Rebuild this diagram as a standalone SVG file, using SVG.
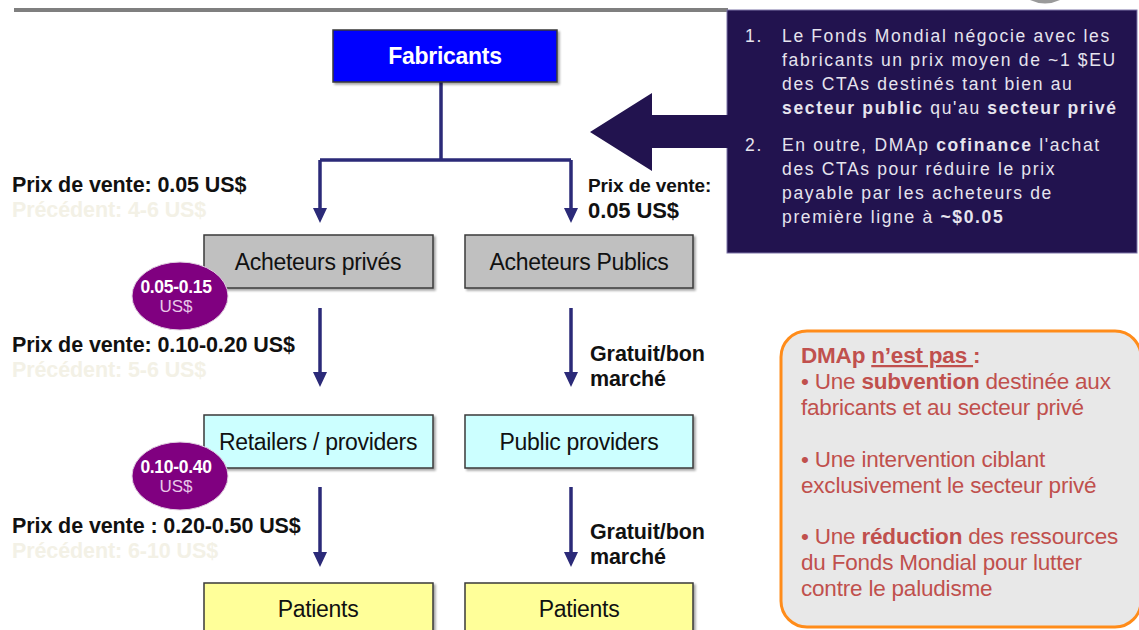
<svg xmlns="http://www.w3.org/2000/svg" width="1139" height="630" viewBox="0 0 1139 630">
<style>
.box{stroke:#3a3a3a;stroke-width:1.5}
.lbl{font-family:"Liberation Sans",Arial,sans-serif;font-size:23px;fill:#111;text-anchor:middle;letter-spacing:-0.3px}
.price{font-family:"Liberation Sans",Arial,sans-serif;font-size:21.5px;font-weight:bold;fill:#111;letter-spacing:-0.1px}
.prev{font-family:"Liberation Sans",Arial,sans-serif;font-size:21.5px;font-weight:bold;fill:#f3f1e6;letter-spacing:-0.1px}
.conn{stroke:#2b2a78;stroke-width:3.5;fill:none}
.ov1{font-family:"Liberation Sans",Arial,sans-serif;font-size:17.5px;font-weight:bold;fill:#fff;text-anchor:middle;letter-spacing:-0.3px}
.ov2{font-family:"Liberation Sans",Arial,sans-serif;font-size:17px;fill:#e8c8e8;text-anchor:middle}
.nt{font-family:"Liberation Sans",Arial,sans-serif;font-size:17.5px;fill:#e6e4ee;letter-spacing:1.65px}
.dm{font-family:"Liberation Sans",Arial,sans-serif;font-size:22.5px;fill:#c0504d;letter-spacing:-0.2px}
</style>
<defs>
<filter id="sh" x="-5%" y="-5%" width="115%" height="130%">
<feDropShadow dx="2" dy="2" stdDeviation="1" flood-color="#000" flood-opacity="0.35"/>
</filter>
</defs>
<rect x="0" y="0" width="1139" height="630" fill="#ffffff"/>
<rect x="14" y="8" width="714" height="4" fill="#7f7f7f"/>
<path d="M1030,0 Q1045,7 1060,0 Z" fill="#9a9a9a"/>

<g id="connectors">
<path class="conn" d="M441,82 V160 M320,160 H571"/>
<path d="M320,160 V208" class="conn"/>
<path d="M313,208 L327,208 L320,223 Z" fill="#2b2a78"/>
<path d="M571,160 V208" class="conn"/>
<path d="M564,208 L578,208 L571,223 Z" fill="#2b2a78"/>
<path d="M320,308 V372" class="conn"/>
<path d="M313,372 L327,372 L320,387 Z" fill="#2b2a78"/>
<path d="M571,308 V372" class="conn"/>
<path d="M564,372 L578,372 L571,387 Z" fill="#2b2a78"/>
<path d="M320,487 V552" class="conn"/>
<path d="M313,552 L327,552 L320,567 Z" fill="#2b2a78"/>
<path d="M571,487 V552" class="conn"/>
<path d="M564,552 L578,552 L571,567 Z" fill="#2b2a78"/>
</g>

<g id="fabricants">
<rect x="333" y="30" width="224" height="52" fill="#0000ff" class="box" filter="url(#sh)"/>
<text x="445" y="64" class="lbl" style="fill:#fff;font-weight:bold">Fabricants</text>
</g>

<g id="acheteurs-prives">
<rect x="204" y="235" width="229" height="53" fill="#c0c0c0" class="box" filter="url(#sh)"/>
<text x="318" y="270" class="lbl">Acheteurs privés</text>
</g>
<g id="acheteurs-publics">
<rect x="465" y="235" width="228" height="53" fill="#c0c0c0" class="box" filter="url(#sh)"/>
<text x="579" y="270" class="lbl">Acheteurs Publics</text>
</g>
<g id="retailers">
<rect x="204" y="415" width="229" height="53" fill="#ccffff" class="box" filter="url(#sh)"/>
<text x="318" y="450" class="lbl">Retailers / providers</text>
</g>
<g id="public-providers">
<rect x="465" y="415" width="228" height="53" fill="#ccffff" class="box" filter="url(#sh)"/>
<text x="579" y="450" class="lbl">Public providers</text>
</g>
<g id="patients-prives">
<rect x="204" y="583" width="229" height="60" fill="#ffff99" class="box" filter="url(#sh)"/>
<text x="318" y="617" class="lbl">Patients</text>
</g>
<g id="patients-publics">
<rect x="465" y="583" width="228" height="60" fill="#ffff99" class="box" filter="url(#sh)"/>
<text x="579" y="617" class="lbl">Patients</text>
</g>

<g id="oval-1">
<ellipse cx="180" cy="296" rx="48" ry="34" fill="#800080" stroke="#e0d0e0" stroke-width="1"/>
<text x="176" y="293" class="ov1">0.05-0.15</text>
<text x="176" y="312" class="ov2">US$</text>
</g>
<g id="oval-2">
<ellipse cx="180" cy="476" rx="48" ry="34" fill="#800080" stroke="#e0d0e0" stroke-width="1"/>
<text x="176" y="473" class="ov1">0.10-0.40</text>
<text x="176" y="492" class="ov2">US$</text>
</g>

<g id="price-labels">
<text x="12" y="192" class="price">Prix de vente: 0.05 US$</text>
<text x="12" y="217" class="prev">Précédent: 4-6 US$</text>
<text x="12" y="352" class="price">Prix de vente: 0.10-0.20 US$</text>
<text x="12" y="377" class="prev">Précédent: 5-6 US$</text>
<text x="12" y="533" class="price">Prix de vente : 0.20-0.50 US$</text>
<text x="12" y="558" class="prev">Précédent: 6-10 US$</text>
<text x="588" y="192" class="price" style="font-size:19px">Prix de vente:</text>
<text x="588" y="218" class="price" style="font-size:22px">0.05 US$</text>
<text x="590" y="361" class="price">Gratuit/bon</text>
<text x="590" y="386" class="price">marché</text>
<text x="590" y="539" class="price">Gratuit/bon</text>
<text x="590" y="564" class="price">marché</text>
</g>

<g id="note-box">
<rect x="727" y="10" width="410" height="243" fill="#22134f" stroke="#7d74a8" stroke-width="1"/>
<path d="M590,132 L652,93 L652,115 L728,115 L728,148 L652,148 L652,171 Z" fill="#22134f"/>
<text class="nt"><tspan x="745" y="42">1.</tspan><tspan x="782" y="42">Le Fonds Mondial négocie avec les</tspan>
<tspan x="782" y="66">fabricants un prix moyen de ~1 $EU</tspan>
<tspan x="782" y="90">des CTAs destinés tant bien au</tspan>
<tspan x="782" y="114"><tspan font-weight="bold">secteur public</tspan> qu'au <tspan font-weight="bold">secteur privé</tspan></tspan>
<tspan x="745" y="151">2.</tspan><tspan x="782" y="151">En outre, DMAp <tspan font-weight="bold">cofinance</tspan> l'achat</tspan>
<tspan x="782" y="175">des CTAs pour réduire le prix</tspan>
<tspan x="782" y="199">payable par les acheteurs de</tspan>
<tspan x="782" y="223">première ligne à <tspan font-weight="bold">~$0.05</tspan></tspan></text>
</g>

<g id="dmap-box">
<rect x="781" y="331" width="360" height="296" rx="26" fill="#e8e8e8" stroke="#ff8c1a" stroke-width="3"/>
<text class="dm"><tspan x="801" y="363" font-weight="bold">DMAp <tspan text-decoration="underline">n’est pas </tspan>:</tspan>
<tspan x="801" y="389">• Une <tspan font-weight="bold">subvention</tspan> destinée aux</tspan>
<tspan x="801" y="415">fabricants et au secteur privé</tspan>
<tspan x="801" y="467">• Une intervention ciblant</tspan>
<tspan x="801" y="493">exclusivement le secteur privé</tspan>
<tspan x="801" y="544">• Une <tspan font-weight="bold">réduction</tspan> des ressources</tspan>
<tspan x="801" y="570">du Fonds Mondial pour lutter</tspan>
<tspan x="801" y="596">contre le paludisme</tspan></text>
</g>
</svg>
